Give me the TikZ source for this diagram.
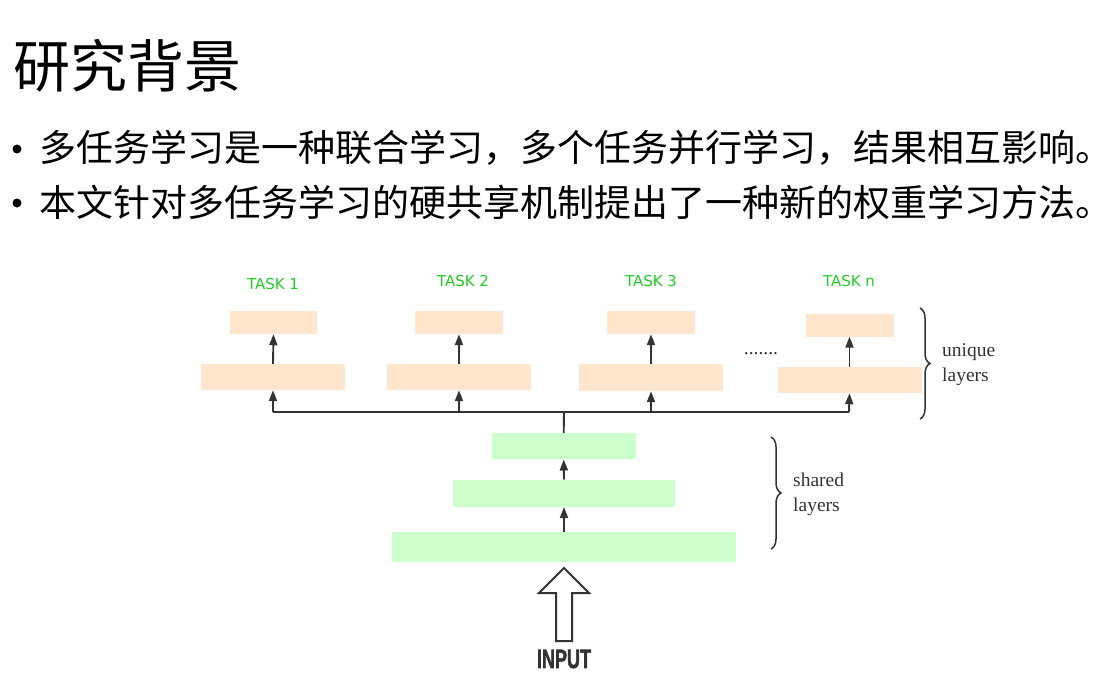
\documentclass[tikz,border=0pt]{standalone}
\usepackage{fontspec}
\usepackage{graphicx}
\usetikzlibrary{arrows.meta,decorations.pathreplacing}
\newfontfamily\cjk{Noto Sans CJK SC}
\newfontfamily\tasksf{DejaVu Sans}
\newfontfamily\serifl{Liberation Serif}
\newfontfamily\inputf{Liberation Sans}[BoldFeatures={FakeBold=2}]
\definecolor{peach}{HTML}{FFE6CC}
\definecolor{mint}{HTML}{CCFFCC}
\definecolor{taskgreen}{HTML}{22CC22}
\definecolor{ink}{HTML}{333333}
\tikzset{
  peachbox/.style={fill=peach, draw=none, inner sep=0pt},
  mintbox/.style={fill=mint, draw=none, inner sep=0pt},
  tasklabel/.style={text=taskgreen, font=\tasksf\fontsize{15}{17}\selectfont, inner sep=0pt},
  arr/.style={draw=ink, line width=1.9pt, -{Triangle[width=8pt,length=11pt]}},
  busline/.style={draw=ink, line width=1.9pt},
  bracestyle/.style={draw=ink, line width=1.5pt, decorate, decoration={brace, amplitude=10pt}},
  sidelabel/.style={text=ink, font=\serifl\fontsize{19.5}{25}\selectfont, align=left, anchor=west, inner sep=0pt},
  bulletline/.style={font=\cjk\fontsize{37}{40}\selectfont, anchor=west, inner sep=0pt},
  bulletdot/.style={circle, fill=black, inner sep=0pt, minimum size=9pt},
}
\begin{document}
\begin{tikzpicture}[x=1pt,y=-1pt]
\useasboundingbox (0,0) rectangle (1110,678);
\fill[white] (0,0) rectangle (1110,678);

% title and bullets
\node[font=\cjk\fontsize{57}{60}\selectfont, anchor=west, inner sep=0pt] (title) at (13,66) {研究背景};
\node[bulletdot] (b1) at (17,149) {};
\node[bulletline] (l1) at (39,148) {多任务学习是一种联合学习，多个任务并行学习，结果相互影响。};
\node[bulletdot] (b2) at (17,203) {};
\node[bulletline] (l2) at (39,202) {本文针对多任务学习的硬共享机制提出了一种新的权重学习方法。};

% task labels
\node[tasklabel] (t1) at (273,284) {TASK 1};
\node[tasklabel] (t2) at (463,281) {TASK 2};
\node[tasklabel] (t3) at (651,281) {TASK 3};
\node[tasklabel] (tn) at (849,281) {TASK n};

% unique layers
\node[peachbox, minimum width=87pt, minimum height=23pt] (u1a) at (273.5,322.5) {};
\node[peachbox, minimum width=144pt, minimum height=26pt] (u1b) at (273,377) {};
\node[peachbox, minimum width=88pt, minimum height=23pt] (u2a) at (459,322.5) {};
\node[peachbox, minimum width=144pt, minimum height=26pt] (u2b) at (459,377) {};
\node[peachbox, minimum width=88pt, minimum height=23pt] (u3a) at (651,322.5) {};
\node[peachbox, minimum width=144pt, minimum height=27pt] (u3b) at (651,377.5) {};
\node[peachbox, minimum width=88pt, minimum height=23pt] (una) at (849.5,325) {};
\node[peachbox, minimum width=144pt, minimum height=26pt] (unb) at (849.5,380) {};

\node[font=\serifl\fontsize{19.5}{22}\selectfont, text=ink, inner sep=0pt] (dots) at (761,354) {.......};

% shared layers
\node[mintbox, minimum width=144pt, minimum height=26pt] (s1) at (563.7,446.3) {};
\node[mintbox, minimum width=222pt, minimum height=27pt] (s2) at (564,493.3) {};
\node[mintbox, minimum width=344pt, minimum height=30pt] (s3) at (564,546.7) {};

% bus
\coordinate (j1) at (273,412);
\coordinate (j2) at (459,412);
\coordinate (jc) at (564,412);
\coordinate (j3) at (651,412);
\coordinate (jn) at (849,412);
\draw[busline] (j1) -- (jn);
\draw[busline] (s1.north) -- (jc);

% arrows
\draw[arr] (j1) -- (u1b.south);
\draw[arr] (j2) -- (u2b.south);
\draw[arr] (j3) -- (u3b.south);
\draw[arr] (jn) -- (unb.south);
\draw[arr] (u1b.north) -- (u1a.south);
\draw[arr] (u2b.north) -- (u2a.south);
\draw[arr] (u3b.north) -- (u3a.south);
\draw[arr] (unb.north) -- (una.south);
\draw[arr] (s3.north) -- (s2.south);
\draw[arr] (s2.north) -- (s1.south);

% braces
\coordinate (ub1) at (920,308);
\coordinate (ub2) at (920,419);
\draw[bracestyle] (ub1) -- (ub2);
\node[sidelabel] (ul) at (942,365) {unique\\layers};
\coordinate (sb1) at (771,437);
\coordinate (sb2) at (771,549);
\draw[bracestyle] (sb1) -- (sb2);
\node[sidelabel] (sl) at (793,494) {shared\\layers};

% input arrow
\draw[ink, line width=2pt, line join=miter, fill=white]
  (564,568) -- (589,593) -- (572,593) -- (572,641) -- (556,641) -- (556,593) -- (539,593) -- cycle;
\node[text=ink, font=\inputf\bfseries\fontsize{26.5}{28}\selectfont, inner sep=0pt] (input) at (564,659) {\scalebox{0.68}[1]{INPUT}};
\end{tikzpicture}
\end{document}
